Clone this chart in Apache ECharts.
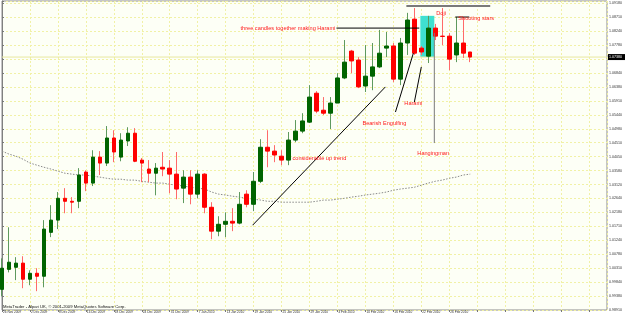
<!DOCTYPE html>
<html>
<head>
<meta charset="utf-8">
<script src="https://cdn.jsdelivr.net/npm/echarts@6/dist/echarts.min.js"></script>
<style>
  html, body { margin: 0; padding: 0; background: #ffffff; }
  #chart { width: 625px; height: 319px; }
</style>
</head>
<body>
<div id="chart"></div>
<script>
// daily bars, 26 Nov 2009 .. 3 Mar 2010
const dates = [
  '26 Nov 2009', '27 Nov 2009', '30 Nov 2009', '1 Dec 2009',
  '2 Dec 2009', '3 Dec 2009', '4 Dec 2009', '7 Dec 2009',
  '8 Dec 2009', '9 Dec 2009', '10 Dec 2009', '11 Dec 2009',
  '14 Dec 2009', '15 Dec 2009', '16 Dec 2009', '17 Dec 2009',
  '18 Dec 2009', '21 Dec 2009', '22 Dec 2009', '23 Dec 2009',
  '24 Dec 2009', '28 Dec 2009', '29 Dec 2009', '30 Dec 2009',
  '31 Dec 2009', '4 Jan 2010', '5 Jan 2010', '6 Jan 2010',
  '7 Jan 2010', '8 Jan 2010', '11 Jan 2010', '12 Jan 2010',
  '13 Jan 2010', '14 Jan 2010', '15 Jan 2010', '18 Jan 2010',
  '19 Jan 2010', '20 Jan 2010', '21 Jan 2010', '22 Jan 2010',
  '25 Jan 2010', '26 Jan 2010', '27 Jan 2010', '28 Jan 2010',
  '29 Jan 2010', '1 Feb 2010', '2 Feb 2010', '3 Feb 2010',
  '4 Feb 2010', '5 Feb 2010', '8 Feb 2010', '9 Feb 2010',
  '10 Feb 2010', '11 Feb 2010', '12 Feb 2010', '15 Feb 2010',
  '16 Feb 2010', '17 Feb 2010', '18 Feb 2010', '19 Feb 2010',
  '22 Feb 2010', '23 Feb 2010', '24 Feb 2010', '25 Feb 2010',
  '26 Feb 2010', '1 Mar 2010', '2 Mar 2010', '3 Mar 2010'
];

const opens = [
  0.9960, 1.0027, 1.0034, 1.0048, 0.9994, 1.0014, 1.0004, 1.0151,
  1.0192, 1.0265, 1.0255, 1.0255, 1.0353, 1.0316, 1.0403, 1.0383,
  1.0467, 1.0403, 1.0457, 1.0483, 1.0393, 1.0363, 1.0349, 1.0369,
  1.0366, 1.0346, 1.0299, 1.0336, 1.0279, 1.0346, 1.0235, 1.0155,
  1.0178, 1.0188, 1.0182, 1.0279, 1.0245, 1.0322, 1.0436, 1.0423,
  1.0406, 1.0393, 1.0460, 1.0490, 1.0520, 1.0617, 1.0560, 1.0550,
  1.0584, 1.0668, 1.0758, 1.0728, 1.0641, 1.0674, 1.0705, 1.0768,
  1.0775, 1.0664, 1.0785, 1.0865, 1.0768, 1.0741, 1.0835, 1.0808,
  1.0808, 1.0745, 1.0785, 1.0755
];
const closes = [
  1.0031, 1.0051, 1.0048, 0.9994, 1.0014, 1.0004, 1.0162, 1.0192,
  1.0265, 1.0255, 1.0252, 1.0343, 1.0316, 1.0403, 1.0383, 1.0467,
  1.0420, 1.0460, 1.0483, 1.0389, 1.0383, 1.0349, 1.0366, 1.0363,
  1.0346, 1.0296, 1.0336, 1.0279, 1.0346, 1.0235, 1.0155, 1.0178,
  1.0188, 1.0182, 1.0245, 1.0245, 1.0322, 1.0436, 1.0423, 1.0410,
  1.0393, 1.0460, 1.0490, 1.0524, 1.0604, 1.0557, 1.0550, 1.0584,
  1.0668, 1.0721, 1.0725, 1.0638, 1.0674, 1.0705, 1.0751, 1.0775,
  1.0664, 1.0785, 1.0862, 1.0751, 1.0755, 1.0835, 1.0808, 1.0807,
  1.0731, 1.0785, 1.0751, 1.0738
];
const lows = [
  0.9937, 1.0017, 0.9991, 0.9964, 0.9974, 0.9954, 0.9967, 1.0135,
  1.0162, 1.0215, 1.0215, 1.0232, 1.0289, 1.0306, 1.0343, 1.0373,
  1.0386, 1.0389, 1.0440, 1.0386, 1.0319, 1.0319, 1.0275, 1.0339,
  1.0282, 1.0262, 1.0249, 1.0245, 1.0265, 1.0215, 1.0128, 1.0138,
  1.0135, 1.0155, 1.0178, 1.0235, 1.0222, 1.0316, 1.0369, 1.0386,
  1.0376, 1.0376, 1.0453, 1.0483, 1.0517, 1.0550, 1.0544, 1.0497,
  1.0584, 1.0664, 1.0684, 1.0634, 1.0621, 1.0627, 1.0701, 1.0738,
  1.0654, 1.0644, 1.0745, 1.0745, 1.0745, 1.0718, 1.0795, 1.0778,
  1.0694, 1.0721, 1.0735, 1.0721
];
const highs = [
  1.0064, 1.0168, 1.0068, 1.0071, 1.0024, 1.0031, 1.0192, 1.0242,
  1.0286, 1.0299, 1.0269, 1.0366, 1.0359, 1.0426, 1.0423, 1.0507,
  1.0493, 1.0483, 1.0503, 1.0500, 1.0400, 1.0393, 1.0383, 1.0420,
  1.0393, 1.0420, 1.0359, 1.0359, 1.0359, 1.0349, 1.0252, 1.0205,
  1.0218, 1.0232, 1.0286, 1.0292, 1.0353, 1.0463, 1.0493, 1.0443,
  1.0426, 1.0487, 1.0527, 1.0550, 1.0644, 1.0624, 1.0604, 1.0604,
  1.0684, 1.0795, 1.0762, 1.0738, 1.0778, 1.0785, 1.0829, 1.0822,
  1.0785, 1.0802, 1.0886, 1.0902, 1.0775, 1.0876, 1.0849, 1.0902,
  1.0818, 1.0872, 1.0872, 1.0755
];

// dotted moving average
const maValues = [
  1.0423, 1.0413, 1.0406, 1.0396, 1.0383, 1.0376, 1.0369, 1.0363,
  1.0356, 1.0349, 1.0346, 1.0343, 1.0343, 1.0339, 1.0336, 1.0332,
  1.0329, 1.0329, 1.0326, 1.0326, 1.0322, 1.0319, 1.0316, 1.0316,
  1.0312, 1.0309, 1.0306, 1.0302, 1.0299, 1.0296, 1.0286, 1.0279,
  1.0276, 1.0272, 1.0269, 1.0265, 1.0262, 1.0259, 1.0255, 1.0255,
  1.0252, 1.0252, 1.0252, 1.0252, 1.0252, 1.0255, 1.0259, 1.0259,
  1.0262, 1.0265, 1.0269, 1.0272, 1.0276, 1.0279, 1.0282, 1.0286,
  1.0292, 1.0296, 1.0299, 1.0302, 1.0309, 1.0316, 1.0322, 1.0326,
  1.0332, 1.0336, 1.0343, 1.0346
];

// price scale labels, bottom to top
const yLabels = [
  '0.98910', '0.99380', '0.99840', '1.00310', '1.00780', '1.01240',
  '1.01710', '1.02180', '1.02640', '1.03120', '1.03580', '1.04050',
  '1.04510', '1.04980', '1.05440', '1.05910', '1.06380', '1.06840',
  '1.07310', '1.07780', '1.08240', '1.08710', '1.09180'
];
const lastPrice = '1.07380';

// hand drawn objects, in [bar index, price]
const noteLines = [
  [[35.86, 1.0175], [54.86, 1.0638]],
  [[56.3, 1.0554], [58.86, 1.0751]],
  [[59.0, 1.0587], [60.0, 1.0705]],
  [[47.86, 1.0835], [59.71, 1.0835]],
  [[64.86, 1.0872], [66.86, 1.0872]]
];
const hangLine = [[61.86, 1.0819], [61.86, 1.0450]];
const topLine = [[57.86, 1.0909], [69.86, 1.0909]];
const haramiBox = [[59.86, 1.0876], [61.86, 1.0738]];
const notes = [
  ['three candles together making Harami', 47.7, 1.0835, 'right'],
  ['Doji', 62.14, 1.0885, 'left'],
  ['Shooting stars', 65.29, 1.0866, 'left'],
  ['Harami', 57.57, 1.0582, 'left'],
  ['Bearish Engulfing', 51.57, 1.0517, 'left'],
  ['considerable up trend', 41.57, 1.0399, 'left'],
  ['Hangingman', 59.43, 1.0416, 'left']
];

const yMin = 0.9891;
const yStep = 0.00466818;

const wickData = dates.map((d, i) => [i, opens[i], closes[i], lows[i], highs[i]]);
const bodyData = dates.map((d, i) => [i, opens[i], closes[i],
  Math.min(opens[i], closes[i]), Math.max(opens[i], closes[i])]);
const maData = maValues.map((v, i) => [i, v]);

const font = '"Liberation Sans", Arial, sans-serif';
const gridLine = { color: '#f1f1a6', type: [2, 2], width: 1 };

const chart = echarts.init(document.getElementById('chart'), null, { renderer: 'canvas' });

chart.setOption({
  animation: false,
  backgroundColor: '#ffffff',
  grid: {
    left: 2, right: 17, top: 1, bottom: 9,
    show: true,
    backgroundColor: '#fdfff6',
    borderColor: '#8c8c8c',
    borderWidth: 1
  },
  xAxis: {
    type: 'value',
    min: 0,
    max: 86.57,
    interval: 4,
    axisLine: { show: false },
    axisTick: { show: true, length: 2, lineStyle: { color: '#777' } },
    axisLabel: {
      fontSize: 3.2, fontFamily: font, color: '#333',
      align: 'left', margin: 1, padding: [0, 0, 0, 1],
      showMaxLabel: false,
      formatter: v => (Number.isInteger(v) && dates[v]) ? dates[v] : ''
    },
    splitLine: { show: true, lineStyle: gridLine }
  },
  yAxis: {
    type: 'value',
    position: 'right',
    min: yMin,
    max: 1.09257,
    interval: yStep,
    axisLine: { show: true, lineStyle: { color: '#808080' } },
    axisTick: { show: true, length: 2, lineStyle: { color: '#777' } },
    axisLabel: {
      fontSize: 3.6, fontFamily: font, color: '#333', margin: 2,
      formatter: (v, idx) => yLabels[idx] || ''
    },
    splitLine: { show: true, lineStyle: gridLine }
  },
  series: [
    {
      type: 'line',
      data: maData,
      symbol: 'none',
      lineStyle: { color: '#8a8a8a', width: 1, type: [1.5, 1.5] },
      z: 1
    },
    {
      type: 'candlestick',
      data: wickData,
      encode: { x: 0, y: [1, 2, 3, 4] },
      barWidth: 0.1,
      clip: false,
      itemStyle: {
        color: '#5e9a5e', color0: '#ff6a6a',
        borderColor: '#5e9a5e', borderColor0: '#ff6a6a',
        borderWidth: 1
      },
      z: 2
    },
    {
      type: 'candlestick',
      data: bodyData,
      encode: { x: 0, y: [1, 2, 3, 4] },
      barWidth: 4,
      clip: false,
      itemStyle: {
        color: '#006400', color0: '#ff0000',
        borderColor: '#006400', borderColor0: '#ff0000',
        borderWidth: 1
      },
      z: 3
    }
  ]
});

// annotations placed through the chart's own scales
const px = p => chart.convertToPixel({ gridIndex: 0 }, p);
const graphics = [];

const b0 = px(haramiBox[0]);
const b1 = px(haramiBox[1]);
graphics.push({
  type: 'rect', z: 1,
  shape: { x: b0[0], y: b0[1], width: b1[0] - b0[0], height: b1[1] - b0[1] },
  style: { fill: '#3fe0d0' }
});

noteLines.forEach(l => {
  const a = px(l[0]);
  const b = px(l[1]);
  graphics.push({
    type: 'line', z: 10,
    shape: { x1: a[0], y1: a[1], x2: b[0], y2: b[1] },
    style: { stroke: '#000', lineWidth: 1 }
  });
});
[[hangLine, 1], [topLine, 2]].forEach(([l, w]) => {
  const a = px(l[0]);
  const b = px(l[1]);
  graphics.push({
    type: 'line', z: 10,
    shape: { x1: a[0], y1: a[1], x2: b[0], y2: b[1] },
    style: { stroke: '#7a7a7a', lineWidth: w }
  });
});

notes.forEach(n => {
  const p = px([n[1], n[2]]);
  graphics.push({
    type: 'text', z: 10,
    x: p[0], y: p[1],
    style: {
      text: n[0], fill: '#ff1a1a', font: '5.6px ' + font,
      align: n[3], verticalAlign: 'middle'
    }
  });
});

// bid line and price box
const lp = px([0, parseFloat(lastPrice)]);
const right = px([86.57, yMin]);
graphics.push({
  type: 'line', z: 1,
  shape: { x1: 2, y1: lp[1], x2: right[0], y2: lp[1] },
  style: { stroke: '#e9e9a0', lineWidth: 1 }
});
graphics.push({
  type: 'rect', z: 10,
  shape: { x: right[0] + 1, y: lp[1] - 3, width: 17, height: 6 },
  style: { fill: '#000' }
});
graphics.push({
  type: 'text', z: 11,
  x: right[0] + 2, y: lp[1],
  style: { text: lastPrice, fill: '#fff', font: '3.6px ' + font, verticalAlign: 'middle' }
});

graphics.push({
  type: 'text', z: 10,
  x: 3, y: 307,
  style: {
    text: 'MetaTrader - Alpari UK, \u00a9 2001-2009 MetaQuotes Software Corp.',
    fill: '#111', font: '4.2px ' + font, verticalAlign: 'middle'
  }
});

chart.setOption({ graphic: graphics });
</script>
</body>
</html>
